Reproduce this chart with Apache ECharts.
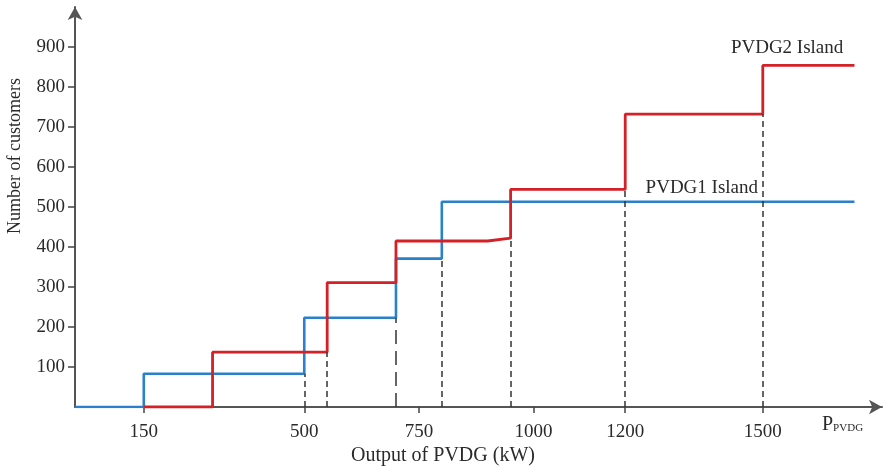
<!DOCTYPE html>
<html><head><meta charset="utf-8">
<script src="https://cdn.jsdelivr.net/npm/echarts@6/dist/echarts.min.js"></script>
<style>html,body{margin:0;padding:0;background:#fff}#c{width:888px;height:466px}</style>
</head><body><div id="c"></div>
<script>
// PVDG1 island: step breakpoints (kW) and customer levels
var blueSteps = [0, 150, 500, 700, 800, 1700];
var blueLevels = [0, 83, 223, 371, 513];
// PVDG2 island: polyline vertices
var redX = [150, 300, 300, 550, 550, 700, 700, 900, 950, 950, 1200, 1200, 1500, 1500, 1700];
var redY = [0, 0, 137, 137, 311, 311, 415, 415, 422, 544, 544, 732, 732, 854, 854];
// dashed drop lines
var dropX = [500, 550, 700, 800, 950, 1200, 1500];
var dropTop = [83, 137, 223, 371, 422, 544, 732];
var xTicks = [150, 500, 750, 1000, 1200, 1500];
var yTicks = [100, 200, 300, 400, 500, 600, 700, 800, 900];

var blueData = [];
for (var i = 0; i < blueLevels.length; i++) {
  blueData.push([blueSteps[i], blueLevels[i]]);
  blueData.push([blueSteps[i + 1], blueLevels[i]]);
}
var redData = redX.map(function (x, i) { return [x, redY[i]]; });
var drops = dropX.map(function (x, i) {
  return [{ coord: [x, 0], lineStyle: { type: x === 700 ? [14, 7] : [6, 4] } }, { coord: [x, dropTop[i]] }];
});

var font = '"Liberation Serif", "DejaVu Serif", serif';
var chart = echarts.init(document.getElementById('c'));
chart.setOption({
  animation: false,
  textStyle: { fontFamily: font },
  grid: { left: 75, right: 6, top: 7, bottom: 59 },
  xAxis: {
    type: 'value', min: 0, max: 1760,
    splitLine: { show: false },
    axisLine: { lineStyle: { color: '#555', width: 2 }, symbol: ['none', 'arrow'], symbolSize: [11, 13] },
    axisTick: { customValues: xTicks, length: 6, lineStyle: { color: '#444', width: 1.5 } },
    axisLabel: { customValues: xTicks, margin: 16, color: '#2a2a2a', fontSize: 19, fontFamily: font,
      formatter: function (v) { return String(v); } }
  },
  yAxis: {
    type: 'value', min: 0, max: 1000,
    splitLine: { show: false },
    axisLine: { lineStyle: { color: '#555', width: 2 }, symbol: ['none', 'arrow'], symbolSize: [11, 13] },
    axisTick: { customValues: yTicks, length: 7, lineStyle: { color: '#444', width: 1.5 } },
    axisLabel: { customValues: yTicks, margin: 10, color: '#2a2a2a', fontSize: 19, fontFamily: font }
  },
  series: [
    {
      type: 'line', name: 'drops', data: [], symbol: 'none', silent: true,
      markLine: {
        symbol: ['none', 'none'], silent: true, label: { show: false },
        lineStyle: { color: '#333', width: 1.5 },
        data: drops
      }
    },
    {
      type: 'line', name: 'PVDG1 Island', data: blueData, symbol: 'none', z: 3,
      lineStyle: { color: '#2a80cc', width: 2.6 },
      markPoint: {
        symbol: 'circle', symbolSize: 0,
        label: { show: true, formatter: 'PVDG1 Island', color: '#2a2a2a', fontSize: 19, fontFamily: font },
        data: [{ coord: [1367, 547] }]
      }
    },
    {
      type: 'line', name: 'PVDG2 Island', data: redData, symbol: 'none', z: 4,
      lineStyle: { color: '#d42027', width: 2.8 },
      markPoint: {
        symbol: 'circle', symbolSize: 0,
        label: { show: true, formatter: 'PVDG2 Island', color: '#2a2a2a', fontSize: 19, fontFamily: font },
        data: [{ coord: [1553, 897] }]
      }
    }
  ],
  graphic: [
    { type: 'text', x: 15, y: 156, rotation: Math.PI / 2, style: { text: 'Number of customers', font: '18px ' + font, fill: '#2a2a2a', align: 'center', verticalAlign: 'middle' } },
    { type: 'text', x: 443, y: 456, style: { text: 'Output of PVDG (kW)', font: '20px ' + font, fill: '#2a2a2a', align: 'center', verticalAlign: 'middle' } },
    { type: 'text', x: 822, y: 425, style: {
      text: '{a|P}{b|PVDG}', fill: '#2a2a2a', verticalAlign: 'middle',
      rich: { a: { fontSize: 20, fontFamily: font, fill: '#2a2a2a' }, b: { fontSize: 11, fontFamily: font, fill: '#2a2a2a', padding: [6, 0, 0, 0] } }
    } }
  ]
});
</script></body></html>
